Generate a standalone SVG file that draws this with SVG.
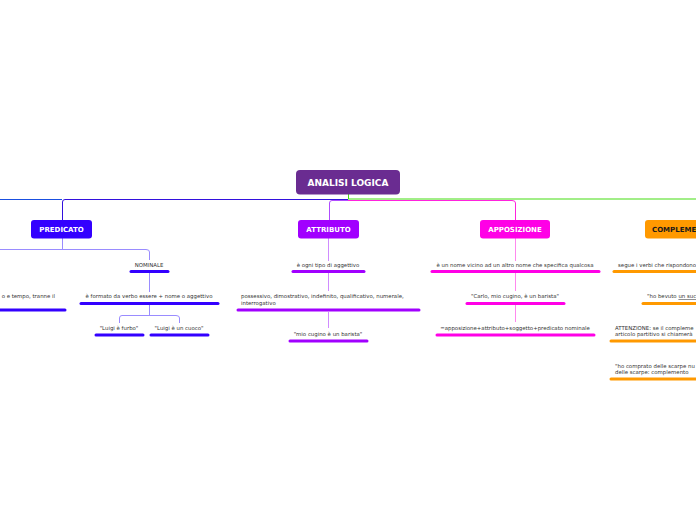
<svg xmlns="http://www.w3.org/2000/svg" width="696" height="520" viewBox="0 0 696 520">
<style>
.nd{font-family:"DejaVu Sans",Verdana,sans-serif;font-weight:bold;fill:#fff;text-anchor:middle}
.t{font-family:"DejaVu Sans",Verdana,sans-serif;font-size:5.4px;fill:#333}
.m{text-anchor:middle}
.c{fill:none;stroke-width:1}
.bar{stroke-width:3;stroke-linecap:round;fill:none}
.bl{stroke:#3300ff}.pu{stroke:#a100ff}.mg{stroke:#ff00e6}.or{stroke:#ff9900}
</style>
<rect width="696" height="520" fill="#fff"/>
<g id="connectors">
<path class="c" d="M62,199.5 H0" stroke="#1a4fe0" stroke-width="1"/>
<path class="c" d="M348,199.5 H65 Q62.5,199.5 62.5,202 V220" stroke="#3311dd" stroke-width="1"/>
<path class="c" d="M348,200.5 H332 Q329.5,200.5 329.5,203 V220" stroke="#b04cff" stroke-width="1"/>
<path class="c" d="M348,200.5 H512 Q515.5,200.5 515.5,203 V220" stroke="#ff22dd" stroke-width="1"/>
<path class="c" d="M348.5,194 V199 M348,199 H696" stroke="#44dd11" stroke-width="2"/>
<path class="c" d="M62.5,238 V249.5 H0 M62,249.5 H146 Q149.5,249.5 149.5,252 V260" stroke="#9a8cff"/>
<path class="c" d="M149.5,273 V292" stroke="#9a8cff"/>
<path class="c" d="M149.5,305 V315.5 M149,315.5 H122 Q119.5,315.5 119.5,318 V323 M149,315.5 H176 Q179.5,315.5 179.5,318 V323" stroke="#9a8cff"/>
<path class="c" d="M328.5,238 V261 M328.5,273 V291 M328.5,312 V328" stroke="#d08cff"/>
<path class="c" d="M515.5,238 V261 M515.5,273 V291 M515.5,305 V322" stroke="#ff88ee"/>
</g>
<g id="root">
<rect x="296" y="170" width="104" height="24.5" rx="4" fill="#6a2c91"/>
<text class="nd" x="348" y="186.2" font-size="9">ANALISI LOGICA</text>
</g>
<g id="predicato">
<rect x="31" y="220" width="61" height="18.5" rx="3" fill="#3300ff"/>
<text class="nd" x="61.5" y="232" font-size="7">PREDICATO</text>
</g>
<g id="predicato-verbale">
<text class="t" x="55" y="298" text-anchor="end">o e tempo, tranne il</text>
<path class="bar bl" d="M-5,310 H65"/>
</g>
<g id="nominale">
<text class="t m" x="149" y="267">NOMINALE</text>
<path class="bar bl" d="M131,271.5 H168"/>
</g>
<g id="formato">
<text class="t m" x="149" y="298">è formato da verbo essere + nome o aggettivo</text>
<path class="bar bl" d="M81,303.5 H218"/>
</g>
<g id="furbo">
<text class="t m" x="119" y="330">"Luigi è furbo"</text>
<path class="bar bl" d="M96,335 H143"/>
</g>
<g id="cuoco">
<text class="t m" x="179" y="330">"Luigi è un cuoco"</text>
<path class="bar bl" d="M151,335 H208"/>
</g>
<g id="attributo">
<rect x="298" y="220" width="61" height="18.5" rx="3" fill="#a100ff"/>
<text class="nd" x="328.5" y="232" font-size="7">ATTRIBUTO</text>
</g>
<g id="aggettivo">
<text class="t m" x="328" y="267">è ogni tipo di aggettivo</text>
<path class="bar pu" d="M293,271.5 H364"/>
</g>
<g id="tipi">
<text class="t" x="241" y="298">possessivo, dimostrativo, indefinito, qualificativo, numerale,</text>
<text class="t" x="241" y="305">interrogativo</text>
<path class="bar pu" d="M238,310 H419"/>
</g>
<g id="mio-cugino">
<text class="t m" x="328" y="336">"mio cugino è un barista"</text>
<path class="bar pu" d="M290,341 H367"/>
</g>
<g id="apposizione">
<rect x="480" y="220" width="70" height="18.5" rx="3" fill="#ff00e6"/>
<text class="nd" x="515" y="232" font-size="7">APPOSIZIONE</text>
</g>
<g id="nome-vicino">
<text class="t m" x="515" y="267">è un nome vicino ad un altro nome che specifica qualcosa</text>
<path class="bar mg" d="M432,271.5 H599"/>
</g>
<g id="carlo">
<text class="t m" x="515" y="298">"Carlo, mio cugino, è un barista"</text>
<path class="bar mg" d="M467,303.5 H564"/>
</g>
<g id="formula">
<text class="t m" x="515" y="330">=apposizione+attributo+soggetto+predicato nominale</text>
<path class="bar mg" d="M437,335 H594"/>
</g>
<g id="complemento">
<rect x="645" y="220" width="100" height="18.5" rx="3" fill="#ff9900"/>
<text x="652" y="232" font-size="7" style="font-family:'DejaVu Sans',Verdana,sans-serif;font-weight:bold;fill:#1a1a1a;text-anchor:start">COMPLEME</text>
</g>
<g id="segue">
<text class="t" x="618" y="267">segue i verbi che rispondono</text>
<path class="bar or" d="M614,271.5 H700"/>
</g>
<g id="bevuto">
<text class="t" x="647" y="298">"ho bevuto <tspan text-decoration="underline">un suc</tspan></text>
<path class="bar or" d="M643,303.5 H700"/>
</g>
<g id="attenzione">
<text class="t" x="615" y="330">ATTENZIONE: se il compleme</text>
<text class="t" x="615" y="336">articolo partitivo si chiamerà</text>
<path class="bar or" d="M611,341 H700"/>
</g>
<g id="scarpe">
<text class="t" x="615" y="368">"ho comprato delle scarpe nu</text>
<text class="t" x="615" y="374">delle scarpe: complemento</text>
<path class="bar or" d="M611,379 H700"/>
</g>
</svg>
